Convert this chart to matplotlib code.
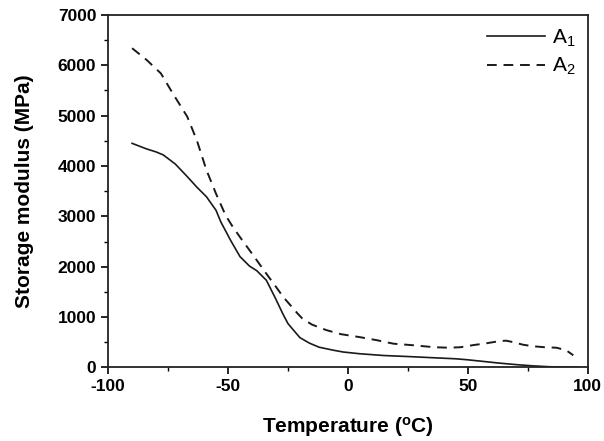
import numpy as np
import matplotlib
matplotlib.use('Agg')
import matplotlib.pyplot as plt
from matplotlib.ticker import MultipleLocator

plt.rcParams['font.family'] = ['Liberation Sans', 'DejaVu Sans']
plt.rcParams['mathtext.fontset'] = 'custom'
plt.rcParams['mathtext.rm'] = 'Liberation Sans'
plt.rcParams['mathtext.bf'] = 'Liberation Sans:bold'
plt.rcParams['mathtext.default'] = 'regular'
plt.rcParams['axes.unicode_minus'] = False

# A1 - solid curve
temp_a1 = [-90, -84, -80, -77, -72, -67, -63, -59, -55, -53, -49, -45, -41, -38, -34,
           -30, -27, -25, -22, -20, -16, -12, -6, -2, 5, 15, 25, 36, 45, 50,
           57, 63, 70, 77, 84, 91, 96]
mod_a1 = [4450, 4340, 4280, 4220, 4040, 3790, 3580, 3390, 3120, 2890, 2530, 2200, 2010,
          1920, 1730, 1350, 1050, 870, 700, 590, 480, 400, 340, 305, 270, 235,
          215, 190, 170, 150, 115, 85, 55, 30, 12, 5, 3]

# A2 - dashed curve
temp_a2 = [-90, -84, -78, -73, -67, -63, -59, -55, -51, -48, -44, -40, -34, -30,
           -27, -21, -19, -15, -9, -3, 5, 12, 19, 27, 36, 42, 47, 52, 58, 63,
           66, 69, 73, 77, 82, 87, 91, 94]
mod_a2 = [6340, 6110, 5840, 5440, 4980, 4510, 3920, 3450, 3020, 2790, 2520, 2260,
          1860, 1600, 1400, 1070, 970, 850, 740, 660, 600, 540, 470, 440, 400,
          390, 400, 440, 480, 520, 530, 500, 450, 420, 400, 390, 340, 240]

fig, ax = plt.subplots(figsize=(6.04, 4.41), dpi=100)
fig.subplots_adjust(left=0.179, right=0.973, top=0.966, bottom=0.167)

ax.plot(temp_a1, mod_a1, color='#1a1a1a', lw=1.2, label='A$_1$')
ax.plot(temp_a2, mod_a2, color='#1a1a1a', lw=1.4, ls=(0, (5, 3.5)), label='A$_2$')

ax.set_xlim(-100, 100)
ax.set_ylim(0, 7000)
ax.xaxis.set_major_locator(MultipleLocator(50))
ax.xaxis.set_minor_locator(MultipleLocator(25))
ax.yaxis.set_major_locator(MultipleLocator(1000))
ax.yaxis.set_minor_locator(MultipleLocator(500))
ax.tick_params(which='major', direction='out', length=5, width=1.2, labelsize=12.5)
ax.tick_params(which='minor', direction='out', length=3, width=1.0)
for lab in ax.get_xticklabels() + ax.get_yticklabels():
    lab.set_fontweight('bold')
for sp in ax.spines.values():
    sp.set_linewidth(1.3)
    sp.set_color('#222222')

ax.set_xlabel(r'Temperature ($\mathbf{^o}$C)', fontsize=15, fontweight='bold', labelpad=15)
ax.set_ylabel('Storage modulus (MPa)', fontsize=15, fontweight='bold', labelpad=17)

ax.legend(loc='upper right', frameon=False, fontsize=15, handlelength=2.8,
          handletextpad=0.3, borderaxespad=0.2, labelspacing=0.35)

fig.savefig('out.png', dpi=100)
